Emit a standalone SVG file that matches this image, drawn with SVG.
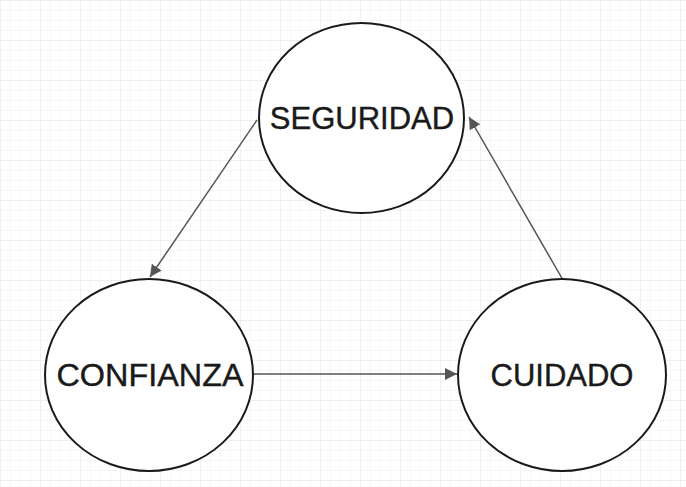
<svg xmlns="http://www.w3.org/2000/svg" width="686" height="487" viewBox="0 0 686 487">
<defs>
<pattern id="minor" width="10" height="10" patternUnits="userSpaceOnUse">
<path d="M10 0 L0 0 0 10" fill="none" stroke="#f0f0f0" stroke-width="1"/>
</pattern>
<pattern id="major" width="40" height="40" patternUnits="userSpaceOnUse">
<rect width="40" height="40" fill="url(#minor)"/>
<path d="M40 0 L0 0 0 40" fill="none" stroke="#e6e6e6" stroke-width="1"/>
</pattern>
<marker id="arr" viewBox="0 0 10 10" refX="10" refY="5" markerWidth="12" markerHeight="12" markerUnits="userSpaceOnUse" orient="auto">
<path d="M0 0 L10 5 L0 10 Z" fill="#555"/>
</marker>
<style>
.node ellipse{fill:#fff;stroke:#1a1a1a;stroke-width:2}
.node text{font-family:"Liberation Sans",Arial,sans-serif;font-size:31px;fill:#1a1a1a;stroke:#1a1a1a;stroke-width:0.4;text-anchor:middle}
.edge{stroke:#555;stroke-width:1.5;fill:none;marker-end:url(#arr)}
</style>
</defs>
<rect width="686" height="487" fill="#fff"/>
<rect width="686" height="487" fill="url(#major)"/>
<g id="connectors">
<line class="edge" x1="257" y1="120" x2="150" y2="277"/>
<line class="edge" x1="253" y1="374" x2="457" y2="374"/>
<line class="edge" x1="563" y1="280" x2="469" y2="117"/>
</g>
<g id="seguridad" class="node">
<ellipse cx="361.5" cy="118" rx="102.5" ry="95"/>
<text x="362" y="129">SEGURIDAD</text>
</g>
<g id="confianza" class="node">
<ellipse cx="149" cy="375" rx="104" ry="96"/>
<text x="150" y="386" textLength="187" lengthAdjust="spacingAndGlyphs">CONFIANZA</text>
</g>
<g id="cuidado" class="node">
<ellipse cx="562" cy="375" rx="104" ry="96"/>
<text x="562" y="386">CUIDADO</text>
</g>
</svg>
